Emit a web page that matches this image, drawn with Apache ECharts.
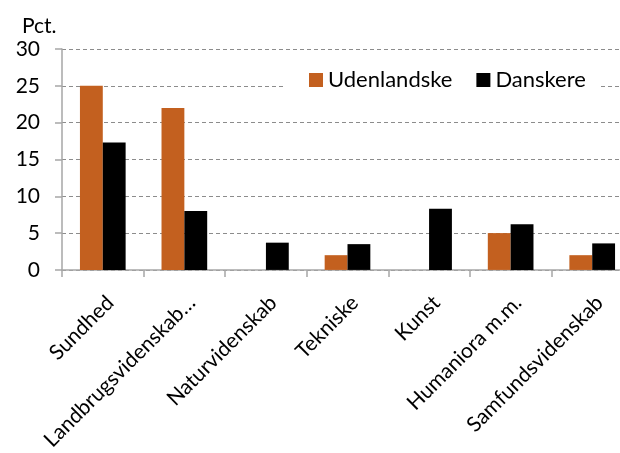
<!DOCTYPE html>
<html><head><meta charset="utf-8">
<script src="https://cdn.jsdelivr.net/npm/echarts@6/dist/echarts.min.js"></script>
<style>html,body{margin:0;padding:0;background:#fff;overflow:hidden}#c{width:650px;height:453px}</style>
</head><body><div id="c"></div>
<script>
const categories = ["Sundhed", "Landbrugsvidenskab…", "Naturvidenskab", "Tekniske", "Kunst", "Humaniora m.m.", "Samfundsvidenskab"];
const udenlandske = [25, 22, 0, 2, 0, 5, 2];
const danskere = [17.3, 8, 3.7, 3.5, 8.3, 6.2, 3.6];
const yTicks = [0, 5, 10, 15, 20, 25, 30];

const FONT = "Lato";
const FS = 21;
const chart = echarts.init(document.getElementById('c'), null, {renderer: 'canvas'});
chart.setOption({
  animation: false,
  backgroundColor: '#fff',
  title: {text: 'Pct.', left: 17, top: 11, textStyle: {fontFamily: FONT, fontSize: FS, fontWeight: 'normal', color: '#000'}},
  legend: {
    data: ['Udenlandske', 'Danskere'],
    left: 283, top: 65,
    itemWidth: 14, itemHeight: 14, itemGap: 24,
    backgroundColor: '#fff', padding: [4, 14, 4, 26],
    icon: 'rect',
    textStyle: {fontFamily: FONT, fontSize: 22, color: '#000'}
  },
  grid: {left: 62, top: 49, height: 225, width: 571, containLabel: false},
  xAxis: {
    type: 'category', data: categories,
    axisLine: {lineStyle: {color: '#a6a6a6', width: 1.5}},
    axisTick: {show: true, alignWithLabel: false, length: 7, lineStyle: {color: '#a6a6a6', width: 1.5}},
    axisLabel: {rotate: 45, interval: 0, margin: 22, align: 'right', verticalAlign: 'top',
                fontFamily: FONT, fontSize: FS, color: '#000'}
  },
  yAxis: {
    type: 'value', min: yTicks[0], max: yTicks[yTicks.length - 1], interval: 5,
    axisLine: {show: true, lineStyle: {color: '#a6a6a6', width: 1.5}},
    axisTick: {show: true, length: 7, lineStyle: {color: '#a6a6a6', width: 1.5}},
    axisLabel: {margin: 22, fontFamily: FONT, fontSize: FS, color: '#000'},
    splitLine: {lineStyle: {color: '#8c8c8c', type: [4, 3], width: 1}}
  },
  series: [
    {name: 'Udenlandske', type: 'bar', data: udenlandske, barGap: '0%', barCategoryGap: '44%',
     itemStyle: {color: '#C3601F'}},
    {name: 'Danskere', type: 'bar', data: danskere, barGap: '0%', barCategoryGap: '44%',
     itemStyle: {color: '#000'}}
  ]
});
</script></body></html>
